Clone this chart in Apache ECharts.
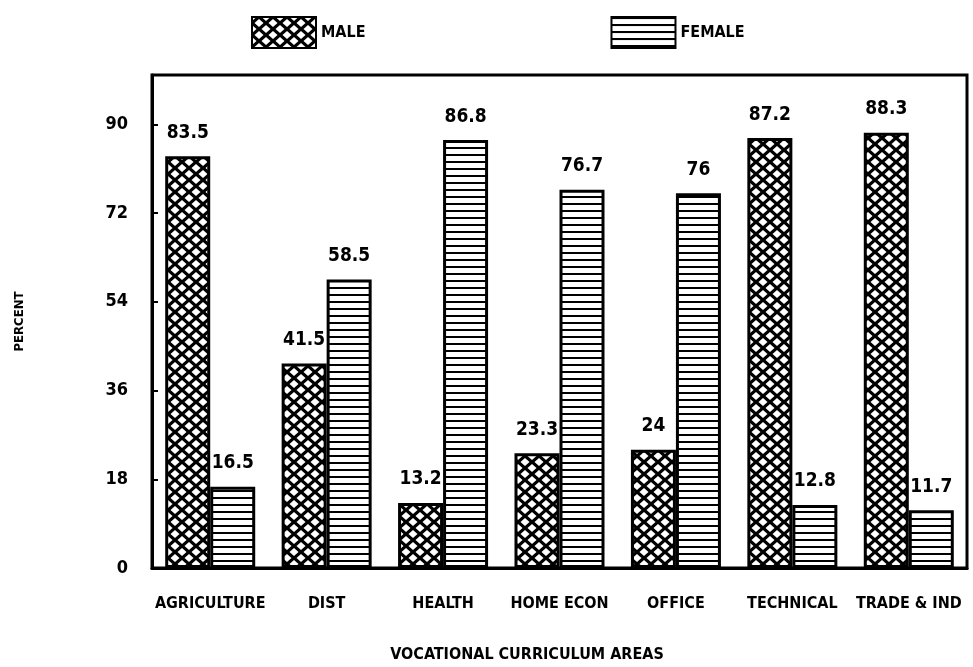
<!DOCTYPE html>
<html>
<head>
<meta charset="utf-8">
<script src="https://cdn.jsdelivr.net/npm/echarts@6/dist/echarts.min.js"></script>
<style>
html, body { margin: 0; padding: 0; background: #fff; }
#chart { width: 973px; height: 667px; }
</style>
</head>
<body>
<div id="chart"></div>
<script>
var categories = ['AGRICULTURE', 'DIST', 'HEALTH', 'HOME ECON', 'OFFICE', 'TECHNICAL', 'TRADE & IND'];
var maleValues = [83.5, 41.5, 13.2, 23.3, 24, 87.2, 88.3];
var femaleValues = [16.5, 58.5, 86.8, 76.7, 76, 12.8, 11.7];
var yTicks = [0, 18, 36, 54, 72, 90];

var FONT = "'Liberation Sans Narrow', 'DejaVu Sans Condensed', sans-serif";

// crosshatch: black with white diamond holes
function makeHatch() {
    var c = document.createElement('canvas');
    c.width = 14; c.height = 12;
    var g = c.getContext('2d');
    g.fillStyle = '#000';
    g.fillRect(0, 0, 14, 12);
    g.fillStyle = '#fff';
    var pts = [[7, 6], [0, 0], [14, 0], [0, 12], [14, 12]];
    pts.forEach(function (p) {
        g.beginPath();
        g.moveTo(p[0], p[1] - 4);
        g.lineTo(p[0] + 4.5, p[1]);
        g.lineTo(p[0], p[1] + 4);
        g.lineTo(p[0] - 4.5, p[1]);
        g.closePath();
        g.fill();
    });
    return c;
}
// horizontal lines
function makeLines() {
    var c = document.createElement('canvas');
    c.width = 8; c.height = 7;
    var g = c.getContext('2d');
    g.fillStyle = '#fff';
    g.fillRect(0, 0, 8, 7);
    g.fillStyle = '#000';
    g.fillRect(0, 0, 8, 2);
    return c;
}

var ech = echarts.init(document.getElementById('chart'));
var labelStyle = {
    show: true,
    position: 'top',
    distance: 14,
    color: '#000',
    fontFamily: FONT,
    fontWeight: 'bold',
    fontSize: 19
};
var option = {
    animation: false,
    backgroundColor: '#fff',
    textStyle: { fontFamily: FONT },
    title: {
        text: 'VOCATIONAL CURRICULUM AREAS',
        left: 522,
        textAlign: 'center',
        top: 642,
        textStyle: { fontFamily: FONT, fontWeight: 'bold', fontSize: 16, color: '#000' }
    },
    legend: {
        top: 11,
        left: 246,
        icon: 'rect',
        itemWidth: 64,
        itemHeight: 31,
        itemGap: 245,
        textStyle: { fontFamily: FONT, fontWeight: 'bold', fontSize: 16, color: '#000' },
        data: ['MALE', 'FEMALE']
    },
    grid: {
        left: 152,
        right: 6,
        top: 75,
        bottom: 99,
        show: true,
        borderColor: '#000',
        borderWidth: 3
    },
    xAxis: {
        type: 'category',
        data: categories,
        axisLine: { lineStyle: { color: '#000', width: 3 } },
        axisTick: { show: false },
        axisLabel: {
            color: '#000',
            fontFamily: FONT,
            fontWeight: 'bold',
            fontSize: 16,
            margin: 28,
            interval: 0
        }
    },
    yAxis: {
        type: 'value',
        min: 0,
        max: 100,
        interval: 18,
        name: 'PERCENT',
        nameLocation: 'middle',
        nameRotate: 90,
        nameGap: 126,
        nameTextStyle: { fontFamily: FONT, fontWeight: 'bold', fontSize: 13, color: '#000' },
        splitLine: { show: false },
        axisLine: { show: true, lineStyle: { color: '#000', width: 3 } },
        axisTick: { show: true, inside: true, length: 6, lineStyle: { color: '#000', width: 2 } },
        axisLabel: {
            color: '#000',
            fontFamily: FONT,
            fontWeight: 'bold',
            fontSize: 18,
            margin: 24,
            formatter: function (v) {
                return yTicks.indexOf(v) >= 0 ? String(v) : '';
            }
        }
    },
    series: [
        {
            name: 'MALE',
            type: 'bar',
            data: maleValues,
            barWidth: 45,
            barGap: '0%',
            itemStyle: {
                color: { image: makeHatch(), repeat: 'repeat' },
                borderColor: '#000',
                borderWidth: 3
            },
            label: labelStyle
        },
        {
            name: 'FEMALE',
            type: 'bar',
            data: femaleValues,
            barWidth: 45,
            itemStyle: {
                color: { image: makeLines(), repeat: 'repeat' },
                borderColor: '#000',
                borderWidth: 3
            },
            label: labelStyle
        }
    ]
};
ech.setOption(option);
</script>
</body>
</html>
